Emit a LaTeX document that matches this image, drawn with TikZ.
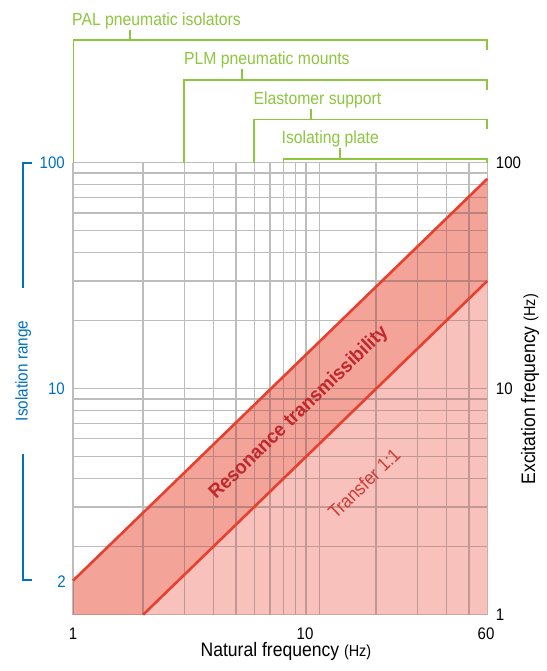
\documentclass[tikz,border=0pt]{standalone}
\usepackage{fontspec}
\setmainfont{Liberation Sans}[FakeStretch=0.9]
\newfontfamily\resfont{Liberation Sans}[FakeStretch=0.95]
\usetikzlibrary{calc}
\definecolor{gridgray}{HTML}{BDBDBD}
\definecolor{griddark}{HTML}{BE827C}
\definecolor{gridlight}{HTML}{C39894}
\definecolor{darkpink}{HTML}{F4A399}
\definecolor{lightpink}{HTML}{F8C1BB}
\definecolor{redline}{HTML}{E8402F}
\definecolor{greenbr}{HTML}{8DC63F}
\definecolor{bluebr}{HTML}{0072BC}
\definecolor{restext}{HTML}{C0282C}
\definecolor{trtext}{HTML}{CF3A33}
\tikzset{
  gridline/.style={line width=1.3pt},
  redcurve/.style={draw=redline, line width=2.6pt},
  greenline/.style={draw=greenbr, line width=1.8pt},
  blueline/.style={draw=bluebr, line width=2pt},
  greenlabel/.style={text=greenbr, anchor=base west, inner sep=0pt, font=\fontsize{17.5}{20}\selectfont},
  bluelabel/.style={text=bluebr, anchor=base east, inner sep=0pt, font=\fontsize{16.7}{19}\selectfont},
  ticklabel/.style={text=black, inner sep=0pt, font=\fontsize{16.7}{19}\selectfont},
  axistitle/.style={text=black, inner sep=0pt, anchor=base, font=\fontsize{19.5}{22}\selectfont},
}
\newcommand\drawgrid[1]{%
  \foreach \f in {1,2,3,4,5,6,7,8,9,10,11.4,20,30,40,50,60}
    \draw[gridline, draw=#1] ({73+233*log10(\f)},162.7) -- ({73+233*log10(\f)},614.7);
  \foreach \f in {1,2,3,4,5,6,7,8,9,10,20,30,40,50,60,70,80,90,100}
    \draw[gridline, draw=#1] (73,{614.7-226*log10(\f)}) -- (487.3,{614.7-226*log10(\f)});
}
\begin{document}
\begin{tikzpicture}[x=1pt, y=-1pt]
\useasboundingbox (0,0) rectangle (546,671);
\fill[white] (0,0) rectangle (546,671);
% grid on white
\drawgrid{gridgray}
% fills
\fill[darkpink] (73,580.7) -- (487.3,178.8) -- (487.3,280.9) -- (143.1,614.7) -- (73,614.7) -- cycle;
\fill[lightpink] (143.1,614.7) -- (487.3,280.9) -- (487.3,614.7) -- cycle;
% grid over the fills
\begin{scope}
\clip (73,580.7) -- (487.3,178.8) -- (487.3,280.9) -- (143.1,614.7) -- (73,614.7) -- cycle;
\drawgrid{griddark}
\end{scope}
\begin{scope}
\clip (143.1,614.7) -- (487.3,280.9) -- (487.3,614.7) -- cycle;
\drawgrid{gridlight}
\end{scope}
% red lines
\coordinate (u1) at (73,580.7);
\coordinate (u2) at (487.3,178.8);
\coordinate (l1) at (143.1,614.7);
\coordinate (l2) at (487.3,280.9);
\draw[redcurve] (u1) -- (u2);
\draw[redcurve] (l1) -- (l2);
% region labels
\node[text=restext, rotate=44, inner sep=0pt, font=\resfont\bfseries\fontsize{19.5}{22}\selectfont] (res) at (299,413) {Resonance transmissibility};
\node[text=trtext, rotate=44, inner sep=0pt, font=\fontsize{19}{22}\selectfont] (tr) at (364,483.3) {Transfer 1:1};
% green brackets
\draw[greenline] (73.5,162.7) -- (73.5,40.4) -- (487,40.4) -- (487,50.5);
\draw[greenline] (130,40.4) -- (130,30);
\node[greenlabel] (pal) at (72,25.1) {PAL pneumatic isolators};
\draw[greenline] (184.2,162.7) -- (184.2,79.8) -- (487,79.8) -- (487,90);
\draw[greenline] (241.8,79.8) -- (241.8,69);
\node[greenlabel] (plm) at (184,64.8) {PLM pneumatic mounts};
\draw[greenline] (254.3,162.7) -- (254.3,119.5) -- (487,119.5) -- (487,129.5);
\draw[greenline] (310.8,119.5) -- (310.8,108.7);
\node[greenlabel] (ela) at (253.3,104.5) {Elastomer support};
\draw[greenline] (283.4,162.7) -- (283.4,158.9) -- (487,158.9) -- (487,162.7);
\draw[greenline] (339.7,158.9) -- (339.7,147.7);
\node[greenlabel] (iso) at (281.5,143.9) {Isolating plate};
% blue isolation range
\draw[blueline] (32.3,162.7) -- (23,162.7) -- (23,288.3);
\draw[blueline] (23,454.3) -- (23,580) -- (32.3,580);
\node[text=bluebr, rotate=90, inner sep=0pt, font=\fontsize{17}{20}\selectfont] (isr) at (23.3,371) {Isolation range};
\node[bluelabel] (b100) at (65,168) {100};
\node[bluelabel] (b10) at (65,394) {10};
\node[bluelabel] (b2) at (66,587) {2};
% right tick labels
\node[ticklabel, anchor=base west] (r100) at (495.7,168) {100};
\node[ticklabel, anchor=base west] (r10) at (495.7,394.5) {10};
\node[ticklabel, anchor=base west] (r1) at (495.7,620) {1};
% bottom tick labels
\node[ticklabel, anchor=base] (x1) at (73,639.3) {1};
\node[ticklabel, anchor=base] (x10) at (305,639.3) {10};
\node[ticklabel, anchor=base] (x60) at (486,639.3) {60};
% axis titles
\node[axistitle] (xt) at (285.9,656.7) {Natural frequency {\fontsize{16}{19}\selectfont(Hz)}};
\node[axistitle, rotate=90] (yt) at (535,389.2) {Excitation frequency {\fontsize{16}{19}\selectfont(Hz)}};
\end{tikzpicture}
\end{document}
